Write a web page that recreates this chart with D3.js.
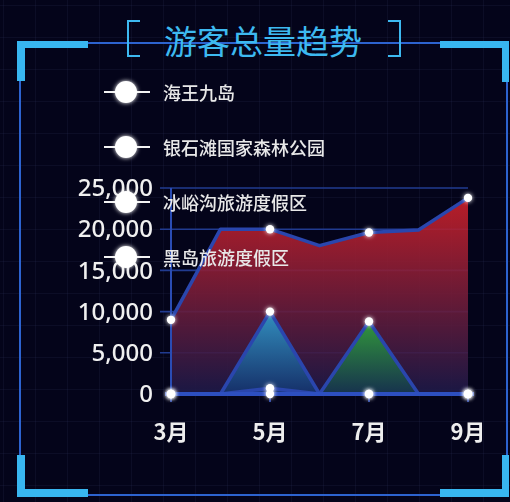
<!DOCTYPE html>
<html>
<head>
<meta charset="utf-8">
<script src="https://cdn.jsdelivr.net/npm/d3@7"></script>
<style>
  html, body { margin: 0; padding: 0; background: #04041a; }
  svg { display: block; }
</style>
</head>
<body>
<svg id="chart" width="510" height="502"></svg>
<script>
// Monthly visitor totals per scenic area
const months = ['3月', '4月', '5月', '6月', '7月', '8月', '9月'];
const seriesNames = ['海王九岛', '银石滩国家森林公园', '冰峪沟旅游度假区', '黑岛旅游度假区'];
const haiwang   = [0, 0, 700, 0, 0, 0, 0];
const yinshitan = [0, 0, 10000, 0, 0, 0, 0];
const bingyugou = [0, 0, 0, 0, 8800, 0, 0];
const heidao    = [9000, 20000, 20000, 18000, 19600, 19900, 23800];
const yTicks = [0, 5000, 10000, 15000, 20000, 25000];
const xLabels = ['3月', '5月', '7月', '9月'];
const title = '游客总量趋势';

const svg = d3.select('#chart');
const W = 510, H = 502;

const defs = svg.append('defs');

// faint background grid
const pat = defs.append('pattern').attr('id', 'bggrid')
  .attr('width', 32).attr('height', 32).attr('patternUnits', 'userSpaceOnUse')
  .attr('x', 4).attr('y', 6);
pat.append('path').attr('d', 'M32,0 V32 M0,32 H32')
  .attr('stroke', 'rgba(70,80,130,0.22)').attr('stroke-width', 1).attr('fill', 'none');

svg.append('rect').attr('width', W).attr('height', H).attr('fill', '#04041a');
svg.append('rect').attr('width', W).attr('height', H).attr('fill', 'url(#bggrid)');

// glow filters
const glow = defs.append('filter').attr('id', 'glow')
  .attr('x', '-100%').attr('y', '-100%').attr('width', '300%').attr('height', '300%');
glow.append('feGaussianBlur').attr('stdDeviation', 2.2).attr('result', 'b');
const gm = glow.append('feMerge');
gm.append('feMergeNode').attr('in', 'b');
gm.append('feMergeNode').attr('in', 'SourceGraphic');

const soft = defs.append('filter').attr('id', 'soft');
soft.append('feGaussianBlur').attr('stdDeviation', 0.45);

const lineGlow = defs.append('filter').attr('id', 'lineGlow')
  .attr('x', '-10%').attr('y', '-200%').attr('width', '120%').attr('height', '500%');
lineGlow.append('feGaussianBlur').attr('stdDeviation', 3);

// area gradients
function vGrad(id, top, bottom) {
  const g = defs.append('linearGradient').attr('id', id)
    .attr('x1', 0).attr('y1', 0).attr('x2', 0).attr('y2', 1);
  g.append('stop').attr('offset', '0%').attr('stop-color', top);
  g.append('stop').attr('offset', '100%').attr('stop-color', bottom);
}
vGrad('gRed', '#cc2029', '#1c1948');
vGrad('gBlue', '#3096c6', '#15306a');
vGrad('gGreen', '#2f9d3c', '#16334e');
vGrad('gNone', '#1e3a8a', '#1e3a8a');

// ---- frame ----
const frameThin = '#2d63cf';
const frameThick = '#38b6f0';
svg.append('path')
  .attr('d', 'M20,43 H507 V495 H20 Z')
  .attr('fill', 'none').attr('stroke', frameThin).attr('stroke-width', 2);
// glow on the top line near the title
svg.append('line').attr('x1', 90).attr('x2', 440).attr('y1', 43).attr('y2', 43)
  .attr('stroke', '#3f7fe8').attr('stroke-width', 4).attr('opacity', 0.5)
  .attr('filter', 'url(#lineGlow)');

const corners = [
  'M17,81 V41 H88 V48 H25 V81 Z',
  'M440,41 H509 V82 H502 V48 H440 Z',
  'M17,455 H25 V489 H88 V497 H17 Z',
  'M502,455 H509 V497 H440 V489 H502 Z'
];
svg.selectAll('.corner').data(corners).join('path')
  .attr('class', 'corner').attr('d', d => d).attr('fill', frameThick);

// ---- title ----
svg.append('path').attr('d', 'M140,21 H128 V56 H140')
  .attr('fill', 'none').attr('stroke', '#3db9f0').attr('stroke-width', 2);
svg.append('path').attr('d', 'M388,21 H400 V56 H388')
  .attr('fill', 'none').attr('stroke', '#3db9f0').attr('stroke-width', 2);
svg.append('text').text(title)
  .attr('x', 263).attr('y', 54)
  .attr('text-anchor', 'middle')
  .attr('font-family', '"Noto Sans CJK SC", sans-serif')
  .attr('font-size', 33)
  .attr('fill', '#3db9f0');

// ---- chart ----
const x = d3.scalePoint().domain(months).range([171, 468]);
const y = d3.scaleLinear().domain([0, 25000]).range([394, 188]);

const plot = svg.append('g');

// horizontal grid + outward ticks
plot.selectAll('.grid').data(yTicks.filter(v => v > 0)).join('line')
  .attr('class', 'grid')
  .attr('x1', 160).attr('x2', x('9月'))
  .attr('y1', d => y(d)).attr('y2', d => y(d))
  .attr('stroke', '#213b90').attr('stroke-width', 1.6);

// y axis labels
const yAxis = d3.axisLeft(y).tickValues(yTicks).tickSize(0).tickPadding(18)
  .tickFormat(d3.format(','));
const yg = plot.append('g').attr('transform', `translate(${x('3月')},0)`).call(yAxis);
yg.select('.domain').remove();
yg.selectAll('text')
  .attr('font-family', '"Noto Sans", "Noto Sans CJK SC", sans-serif')
  .attr('font-size', 24)
  .attr('font-weight', 500)
  .attr('fill', '#f0f0f0')
  .attr('filter', 'url(#soft)');

const area = d3.area()
  .x((d, i) => x(months[i]))
  .y0(y(0))
  .y1(d => y(d));
const line = d3.line()
  .x((d, i) => x(months[i]))
  .y(d => y(d));

const series = [
  { name: seriesNames[3], values: heidao, fill: 'url(#gRed)', opacity: 0.9 },
  { name: seriesNames[1], values: yinshitan, fill: 'url(#gBlue)', opacity: 0.95 },
  { name: seriesNames[2], values: bingyugou, fill: 'url(#gGreen)', opacity: 0.95 },
  { name: seriesNames[0], values: haiwang, fill: 'url(#gNone)', opacity: 0.6 }
];

series.forEach(s => {
  plot.append('path').datum(s.values)
    .attr('d', area).attr('fill', s.fill).attr('opacity', s.opacity);
});

// y axis line
plot.append('line')
  .attr('x1', x('3月')).attr('x2', x('3月'))
  .attr('y1', y(25000)).attr('y2', y(0))
  .attr('stroke', '#2a4cb4').attr('stroke-width', 2);

series.forEach(s => {
  plot.append('path').datum(s.values)
    .attr('d', line).attr('fill', 'none')
    .attr('stroke', '#2a46ad').attr('stroke-width', 3.5)
    .attr('stroke-linejoin', 'round');
});

// x axis line and ticks
plot.append('line')
  .attr('x1', x('3月') - 6).attr('x2', x('9月') + 6)
  .attr('y1', y(0)).attr('y2', y(0))
  .attr('stroke', '#2d4fc0').attr('stroke-width', 4);
plot.selectAll('.xtick').data(xLabels).join('line')
  .attr('class', 'xtick')
  .attr('x1', d => x(d)).attr('x2', d => x(d))
  .attr('y1', y(0)).attr('y2', y(0) + 8)
  .attr('stroke', '#3a5cd0').attr('stroke-width', 1.5);

// x labels
plot.selectAll('.xlab').data(xLabels).join('text')
  .attr('class', 'xlab')
  .attr('x', d => x(d)).attr('y', 440)
  .attr('text-anchor', 'middle')
  .attr('font-family', '"Noto Sans CJK SC", sans-serif')
  .attr('font-size', 22).attr('font-weight', 'bold')
  .attr('fill', '#eeeeee')
  .attr('filter', 'url(#soft)')
  .text(d => d);

// point symbols on labelled months
series.forEach(s => {
  const pts = months.map((m, i) => ({ m, v: s.values[i] })).filter(p => xLabels.includes(p.m));
  plot.selectAll(null).data(pts).join('circle')
    .attr('cx', d => x(d.m)).attr('cy', d => y(d.v))
    .attr('r', 4.2)
    .attr('fill', '#ffffff')
    .attr('filter', 'url(#glow)');
});

// ---- legend ----
const legend = svg.append('g');
const lg = legend.selectAll('g').data(seriesNames).join('g')
  .attr('transform', (d, i) => `translate(0,${92 + i * 55})`);
lg.append('line').attr('x1', 104).attr('x2', 150).attr('y1', 0).attr('y2', 0)
  .attr('stroke', '#f2f2f2').attr('stroke-width', 2);
lg.append('circle').attr('cx', 126).attr('cy', 0).attr('r', 11)
  .attr('fill', '#ffffff').attr('filter', 'url(#glow)');
lg.append('text').attr('x', 163).attr('y', 0)
  .attr('dominant-baseline', 'central')
  .attr('font-family', '"Noto Sans CJK SC", sans-serif')
  .attr('font-size', 18)
  .attr('font-weight', 500)
  .attr('fill', '#e8e8e8')
  .attr('filter', 'url(#soft)')
  .text(d => d);
</script>
</body>
</html>
